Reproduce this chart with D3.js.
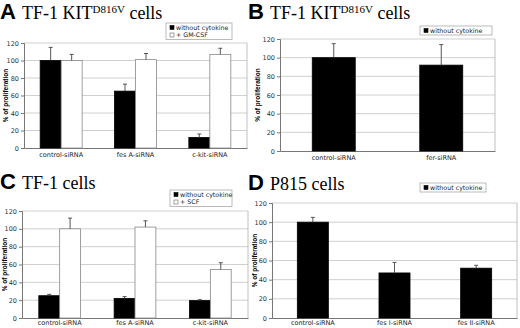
<!DOCTYPE html>
<html>
<head>
<meta charset="utf-8">
<script src="https://cdn.jsdelivr.net/npm/d3@7"></script>
<style>
  body { margin: 0; background: #fff; }
</style>
</head>
<body>
<svg id="fig" width="520" height="328"></svg>
<script>
// panel A: TF-1 KIT D816V, fes A siRNA
let catsA = ["control-siRNA", "fes A-siRNA", "c-kit-siRNA"];
let seriesA = ["without cytokine", "+ GM-CSF"];
let valsA = [[100, 65, 12], [100, 101, 107]];
let errA = [[15, 8, 4], [7, 7, 7]];

// panel B: TF-1 KIT D816V, fer siRNA
let catsB = ["control-siRNA", "fer-siRNA"];
let seriesB = ["without cytokine"];
let valsB = [[100, 92]];
let errB = [[15, 22]];

// panel C: TF-1 cells
let catsC = ["control-siRNA", "fes A-siRNA", "c-kit-siRNA"];
let seriesC = ["without cytokine", "+ SCF"];
let valsC = [[25, 22, 19.5], [100, 102, 54.5]];
let errC = [[1.5, 2, 1], [12, 7, 7.5]];

// panel D: P815 cells
let catsD = ["control-siRNA", "fes I-siRNA", "fes II-siRNA"];
let seriesD = ["without cytokine"];
let valsD = [[100, 47, 52]];
let errD = [[5, 11, 3]];

let yTicks = [0, 20, 40, 60, 80, 100, 120];
let fills = ["#000", "#fff"];
let serif = '"Liberation Serif"';
let sans = '"DejaVu Sans"';

let svg = d3.select("#fig");

function drawTitle(x, y, letter, parts) {
    svg.append("text")
        .attr("x", x).attr("y", y)
        .attr("font-weight", "bold")
        .attr("font-size", 22)
        .style("font-family", '"Liberation Sans"')
        .text(letter);
    let t = svg.append("text")
        .attr("x", x + 22).attr("y", y)
        .style("font-family", serif)
        .attr("font-size", 18);
    parts.forEach(p => {
        let s = t.append("tspan").style("font-family", serif).text(p.t);
        if (p.sup) s.attr("font-size", 11).attr("dy", -6);
        else if (p.after) s.attr("dy", 6);
    });
}

function drawPanel(cfg) {
    let g = svg.append("g");
    let x = d3.scaleBand().domain(cfg.cats).range([cfg.x0, cfg.x1])
        .paddingInner(cfg.pad).paddingOuter(cfg.pad / 2);
    let xs = d3.scaleBand().domain(d3.range(cfg.series.length)).range([0, x.bandwidth()]);
    let y = d3.scaleLinear().domain([0, 120]).range([cfg.y0, cfg.y1]);

    // gridlines
    g.selectAll("line.grid").data(yTicks.slice(1)).join("line")
        .attr("x1", cfg.x0).attr("x2", cfg.x1)
        .attr("y1", d => y(d)).attr("y2", d => y(d))
        .attr("stroke", "#c4c4c4").attr("stroke-width", 0.8);
    // right border
    g.append("line").attr("x1", cfg.x1).attr("x2", cfg.x1)
        .attr("y1", y(120)).attr("y2", y(0))
        .attr("stroke", "#b0b0b0").attr("stroke-width", 0.8);

    // y axis
    let ya = g.append("g").attr("transform", `translate(${cfg.x0},0)`)
        .call(d3.axisLeft(y).tickValues(yTicks).tickSize(3).tickPadding(2));
    ya.select(".domain").attr("stroke", "#777");
    ya.selectAll(".tick line").attr("stroke", "#777");
    ya.selectAll(".tick text").attr("font-size", 6.5).attr("fill", "#333")
        .style("font-family", sans);

    // x axis
    let xa = g.append("g").attr("transform", `translate(0,${cfg.y0})`)
        .call(d3.axisBottom(x).tickSize(0).tickPadding(cfg.xPad));
    xa.select(".domain").attr("stroke", "#777");
    xa.selectAll(".tick text").attr("font-size", 6.5).attr("fill", "#222")
        .style("font-family", sans);

    // bars
    cfg.series.forEach((s, si) => {
        g.selectAll(null).data(cfg.cats).join("rect")
            .attr("x", d => x(d) + xs(si))
            .attr("width", xs.bandwidth())
            .attr("y", (d, i) => y(cfg.vals[si][i]))
            .attr("height", (d, i) => y(0) - y(cfg.vals[si][i]))
            .attr("fill", fills[si])
            .attr("stroke", si == 0 ? "#000" : "#888")
            .attr("stroke-width", 0.8);
        // error bars, upper only
        g.selectAll(null).data(cfg.cats).join("path")
            .attr("d", (d, i) => {
                let cx = x(d) + xs(si) + xs.bandwidth() / 2;
                let top = y(cfg.vals[si][i] + cfg.errs[si][i]);
                return `M${cx},${y(cfg.vals[si][i])}V${top}M${cx - 2},${top}H${cx + 2}`;
            })
            .attr("stroke", "#444").attr("stroke-width", 0.9).attr("fill", "none");
    });

    // y label
    svg.append("text")
        .attr("transform", `translate(${cfg.labX},${(y(0) + y(120)) / 2}) rotate(-90)`)
        .attr("text-anchor", "middle")
        .attr("font-size", 6.5).attr("font-weight", "bold")
        .style("font-family", '"Liberation Sans"')
        .text("% of proliferation");

    // legend
    let lg = svg.append("g").attr("transform", `translate(${cfg.leg[0]},${cfg.leg[1]})`);
    lg.append("rect").attr("width", cfg.leg[2]).attr("height", cfg.series.length * 7.5 + 1.5)
        .attr("fill", "#fff").attr("stroke", "#aaa").attr("stroke-width", 0.8);
    cfg.series.forEach((s, i) => {
        lg.append("rect").attr("x", 4).attr("y", 2.5 + i * 7.5)
            .attr("width", 4).attr("height", 4)
            .attr("fill", fills[i]).attr("stroke", i == 0 ? "#000" : "#666").attr("stroke-width", 0.6);
        lg.append("text").attr("x", 10).attr("y", 6.8 + i * 7.5)
            .attr("font-size", 6.3).attr("fill", "#222")
            .style("font-family", sans)
            .text(s);
    });
}

drawTitle(0, 19, "A", [{t: "TF-1 KIT"}, {t: "D816V", sup: true}, {t: " cells", after: true}]);
drawTitle(248, 19, "B", [{t: "TF-1 KIT"}, {t: "D816V", sup: true}, {t: " cells", after: true}]);
drawTitle(0, 189, "C", [{t: "TF-1 cells"}]);
drawTitle(248, 190, "D", [{t: "P815 cells"}]);

drawPanel({cats: catsA, series: seriesA, vals: valsA, errs: errA,
    x0: 24, x1: 247, y0: 148, y1: 43, pad: 0.435, xPad: 4, labX: 8, leg: [166, 23, 66]});
drawPanel({cats: catsB, series: seriesB, vals: valsB, errs: errB,
    x0: 280, x1: 495, y0: 151, y1: 39, pad: 0.6, xPad: 4, labX: 260, leg: [420, 26, 72]});
drawPanel({cats: catsC, series: seriesC, vals: valsC, errs: errC,
    x0: 22, x1: 248, y0: 318, y1: 211, pad: 0.446, xPad: 2, labX: 7, leg: [170, 190, 62]});
drawPanel({cats: catsD, series: seriesD, vals: valsD, errs: errD,
    x0: 272, x1: 517, y0: 318, y1: 203, pad: 0.62, xPad: 2, labX: 257, leg: [420, 183, 66]});
</script>
</body>
</html>
